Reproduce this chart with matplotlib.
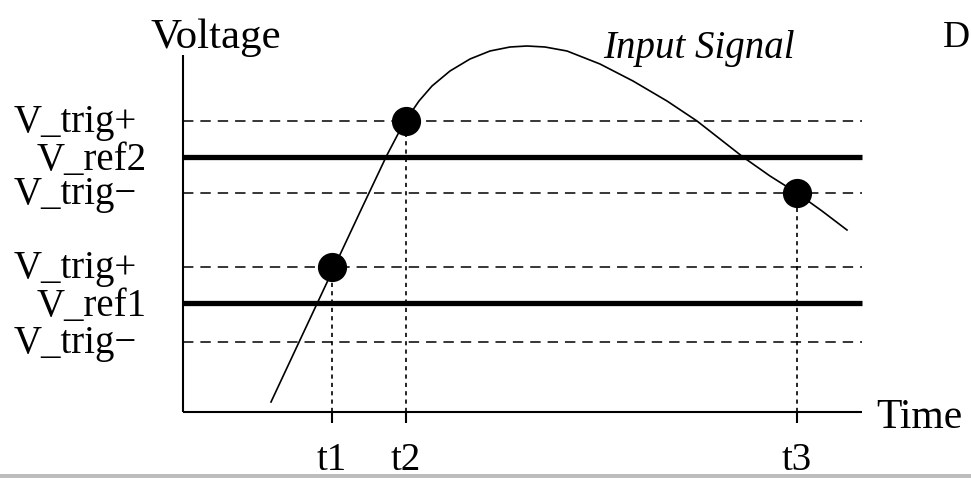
import matplotlib
matplotlib.use("Agg")
import matplotlib.pyplot as plt
from matplotlib.patches import Rectangle

plt.rcParams['lines.scale_dashes'] = False

# ---- data (time / voltage in arbitrary units) ----
curve_t = [0.88, 1.17, 1.47, 1.77, 2.04, 2.15, 2.25, 2.36, 2.49, 2.67, 2.87, 3.07,
           3.27, 3.44, 3.62, 3.84, 4.17, 4.50, 4.84, 5.14, 5.37, 5.60, 5.87, 6.14,
           6.39, 6.64]
curve_v = [0.10, 0.72, 1.36, 2.00, 2.57, 2.78, 2.95, 3.11, 3.26, 3.41, 3.53, 3.61,
           3.65, 3.66, 3.65, 3.61, 3.48, 3.31, 3.11, 2.91, 2.73, 2.55, 2.36, 2.19,
           2.01, 1.82]

level_names = ["V_trig+", "V_ref2", "V_trig\u2212", "V_trig+", "V_ref1", "V_trig\u2212"]
level_values = [2.91, 2.55, 2.19, 1.45, 1.09, 0.70]
level_is_ref = [False, True, False, False, True, False]

event_names = ["t1", "t2", "t3"]
event_times = [1.49, 2.23, 6.14]
event_volts = [1.45, 2.91, 2.19]

t_end = 6.79
v_top = 3.57

# ---- figure ----
fig = plt.figure(figsize=(9.71, 4.78), dpi=100)
ax = fig.add_axes([0, 0, 1, 1])
ax.set_xlim(-1.83, 7.88)
ax.set_ylim(-0.66, 4.12)
ax.axis('off')

serif = "Liberation Serif"

# axes lines
ax.plot([0, 0], [0, v_top], color='black', lw=1.5, solid_capstyle='butt')
ax.plot([0, t_end], [0, 0], color='black', lw=1.5, solid_capstyle='butt')

# level lines and labels
for name, val, is_ref in zip(level_names, level_values, level_is_ref):
    if is_ref:
        ax.plot([0, t_end], [val, val], color='black', lw=3.8, solid_capstyle='butt')
        ax.text(-0.36, val - 0.13, name, ha='right', va='baseline',
                fontsize=28, family=serif)
    else:
        ax.plot([0, t_end], [val, val], color='black', lw=1.1,
                dashes=(7.5, 5))
        ax.text(-0.46, val - 0.11, name, ha='right', va='baseline',
                fontsize=28, family=serif)

# vertical dotted lines, ticks, and labels
for name, t, v in zip(event_names, event_times, event_volts):
    ax.plot([t, t], [0, v], color='black', lw=1.2, dashes=(3, 3))
    ax.plot([t, t], [0, -0.11], color='black', lw=1.5, solid_capstyle='butt')
    ax.text(t, -0.58, name, ha='center', va='baseline', fontsize=28, family=serif)

# input signal curve
ax.plot(curve_t, curve_v, color='black', lw=1.2, solid_joinstyle='round')

# event dots
ax.plot(event_times, event_volts, 'o', color='black', markersize=20, zorder=5)

# text labels
ax.text(-0.33, 3.64, "Voltage", ha='left', va='baseline', fontsize=31, family=serif)
ax.text(6.93, -0.16, "Time", ha='left', va='baseline', fontsize=30, family=serif)
ax.text(4.20, 3.54, "Input Signal", ha='left', va='baseline', fontsize=28,
        family=serif, style='italic')
ax.text(7.60, 3.65, "D", ha='left', va='baseline', fontsize=27, family=serif)

# grey strip at bottom edge
fig.patches.append(Rectangle((0, 0), 1, 4 / 478, transform=fig.transFigure,
                             facecolor='#bdbdbd', edgecolor='none'))

fig.savefig("out.png", dpi=100)
